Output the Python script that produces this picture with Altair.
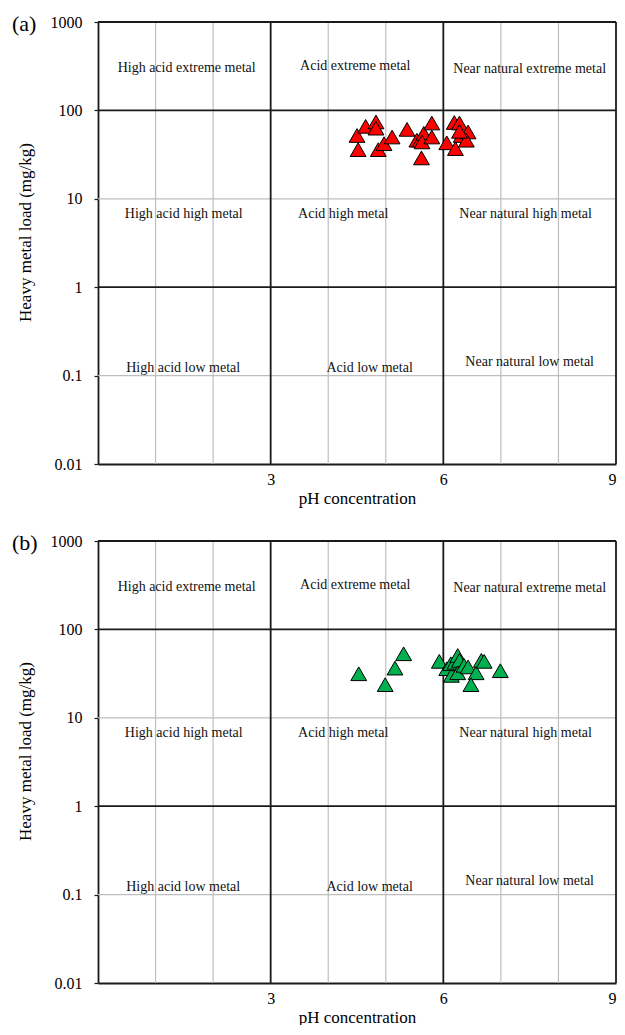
import altair as alt
import pandas as pd

# ---- data ----
ph_a = [4.50, 4.65, 4.83, 4.83, 4.52, 4.87, 4.97, 5.11, 5.37, 5.54, 5.60, 5.66,
        5.63, 5.80, 5.80, 5.62, 6.06, 6.19, 6.28, 6.21, 6.31, 6.43, 6.40, 6.28]
metal_a = [52, 66, 74, 63, 36, 36, 42, 50, 61, 46, 46, 55,
           44, 72, 50, 29, 43, 73, 72, 37, 52, 57, 46, 58]

ph_b = [4.53, 4.99, 5.16, 5.31, 5.93, 6.06, 6.14, 6.13, 6.20, 6.25,
        6.28, 6.25, 6.36, 6.43, 6.57, 6.48, 6.66, 6.71, 6.99]
metal_b = [31.5, 23.7, 36.5, 53, 43.5, 35.9, 30.2, 40.9, 42.5, 50.7,
           44.6, 32.3, 39.2, 37.6, 32.3, 23.7, 44.6, 43.5, 34.1]

zone_labels = ["High acid extreme metal", "Acid extreme metal", "Near natural extreme metal",
               "High acid high metal", "Acid high metal", "Near natural high metal",
               "High acid low metal", "Acid low metal", "Near natural low metal"]
zone_x = [1.54, 4.47, 7.50, 1.49, 4.26, 7.43, 1.48, 4.72, 7.50]
zone_y = [300, 320, 295, 6.8, 6.8, 6.8, 0.122, 0.122, 0.143]

minor_x = [1, 2, 4, 5, 7, 8]
major_x = [3, 6, 9]
minor_y = [0.1, 10]
major_y = [1, 100, 1000]

x_ticks = [3, 6, 9]
y_ticks = [0.01, 0.1, 1, 10, 100, 1000]

FONT = "Liberation Serif"
W, H = 518, 442

xscale = alt.Scale(domain=[0, 9], nice=False, zero=False)
yscale = alt.Scale(type="log", domain=[0.01, 1000], nice=False)


def X():
    return alt.X("x:Q", scale=xscale, title="pH concentration",
                 axis=alt.Axis(values=x_ticks, format="d", ticks=False, labelFlush=True,
                               labelPadding=7, titlePadding=3, grid=False))


def Y():
    return alt.Y("y:Q", scale=yscale, title="Heavy metal load (mg/kg)",
                 axis=alt.Axis(values=y_ticks, format="~g", tickSize=4,
                               labelPadding=12, titlePadding=16, titleY=210,
                               grid=False))


def panel(ph, metal, color, tag):
    pts = pd.DataFrame({"x": ph, "y": metal})

    gx = alt.Chart(pd.DataFrame({"x": minor_x})).mark_rule(
        color="#BEBEBE", strokeWidth=1.2).encode(x=X())
    gy = alt.Chart(pd.DataFrame({"y": minor_y})).mark_rule(
        color="#BEBEBE", strokeWidth=1.2).encode(y=Y())
    bx = alt.Chart(pd.DataFrame({"x": major_x})).mark_rule(
        color="#1A1A1A", strokeWidth=1.8).encode(x=X())
    by = alt.Chart(pd.DataFrame({"y": major_y})).mark_rule(
        color="#1A1A1A", strokeWidth=1.8).encode(y=Y())

    txt = alt.Chart(pd.DataFrame({"x": zone_x, "y": zone_y, "t": zone_labels})).mark_text(
        font=FONT, fontSize=14, color="#111111", align="center", baseline="middle"
    ).encode(x=X(), y=Y(), text="t:N")

    marks = alt.Chart(pts).mark_point(
        shape="triangle-up", size=250, filled=True, fill=color, stroke="#000000",
        strokeWidth=1, opacity=1).encode(x=X(), y=Y())

    tag_layer = alt.Chart(pd.DataFrame({"t": [tag]})).mark_text(
        font=FONT, fontSize=22, color="#000000", align="left", baseline="middle"
    ).encode(x=alt.value(-86), y=alt.value(2), text="t:N")

    return alt.layer(gx, gy, bx, by, txt, marks, tag_layer).properties(width=W, height=H)


top = panel(ph_a, metal_a, "#FF0000", "(a)")
bottom = panel(ph_b, metal_b, "#00B050", "(b)")

chart = alt.vconcat(top, bottom, spacing=26).properties(
    padding={"left": 4, "top": 5, "right": 0, "bottom": 0}
).configure_view(stroke=None).configure_axis(
    domainColor="#1A1A1A", domainWidth=1.8, tickColor="#1A1A1A", tickWidth=1.2,
    labelFont=FONT, labelFontSize=16, labelColor="#000000",
    titleFont=FONT, titleFontSize=17, titleFontWeight="normal", titleColor="#000000"
)

chart.save("out.html", embed_options={"renderer": "svg", "actions": False})
